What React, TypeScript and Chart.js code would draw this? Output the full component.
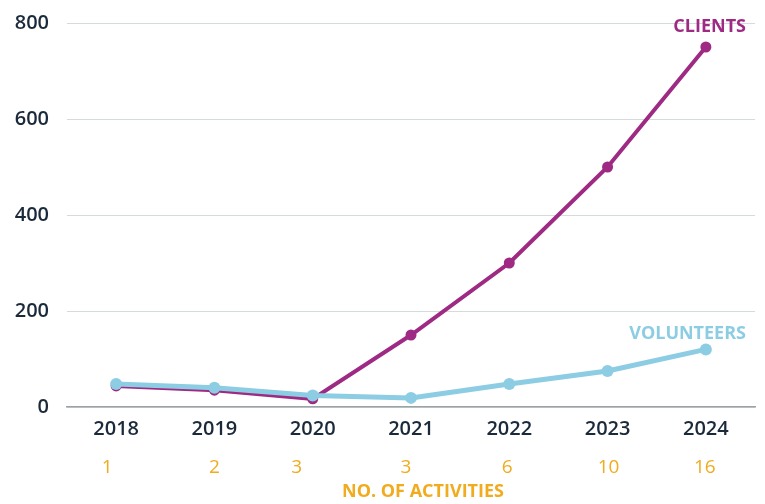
import React, { useEffect, useRef } from "react";
import { Chart, registerables } from "chart.js";

Chart.register(...registerables);

const years = ["2018", "2019", "2020", "2021", "2022", "2023", "2024"];
const clients = [44, 35, 17, 150, 300, 500, 750];
const volunteers = [48, 40, 24, 19, 48, 75, 120];
const activities = ["1", "2", "3", "3", "6", "10", "16"];
const yTicks = [0, 200, 400, 600, 800];

const PURPLE = "#9e2a83";
const BLUE = "#8ccde3";
const ORANGE = "#f0ab1e";
const NAVY = "#1b2a3a";
const FONT = "'Open Sans', 'DejaVu Sans', sans-serif";

const activityDx = [-9, 0, -16, -5, -2, 1, -1];

const overlay = {
  id: "overlay",
  afterDraw(chart: any) {
    const ctx = chart.ctx;
    const x = chart.scales.x;
    const y = chart.scales.y;
    ctx.save();
    ctx.textBaseline = "middle";
    ctx.textAlign = "center";
    ctx.fillStyle = ORANGE;
    ctx.font = `400 19px ${FONT}`;
    activities.forEach((a, i) => {
      ctx.fillText(a, x.getPixelForValue(i) + activityDx[i], 468);
    });
    ctx.font = `700 18px ${FONT}`;
    ctx.fillText("NO. OF ACTIVITIES", (chart.chartArea.left + chart.chartArea.right) / 2 + 12, 492);

    const last = years.length - 1;
    ctx.textAlign = "right";
    ctx.font = `700 18px ${FONT}`;
    ctx.fillStyle = PURPLE;
    ctx.fillText("CLIENTS", 746, y.getPixelForValue(clients[last]) - 20);
    ctx.fillStyle = BLUE;
    ctx.fillText("VOLUNTEERS", 746, y.getPixelForValue(volunteers[last]) - 16);
    ctx.restore();
  },
};

export default function App() {
  const ref = useRef<HTMLCanvasElement>(null);
  useEffect(() => {
    if (!ref.current) return;
    const chart = new Chart(ref.current, {
      type: "line",
      data: {
        labels: years,
        datasets: [
          {
            label: "CLIENTS",
            data: clients,
            borderColor: PURPLE,
            backgroundColor: PURPLE,
            borderWidth: 4,
            pointRadius: 5.5,
            pointBorderWidth: 0,
            pointBackgroundColor: PURPLE,
            tension: 0,
            order: 1,
          },
          {
            label: "VOLUNTEERS",
            data: volunteers,
            borderColor: BLUE,
            backgroundColor: BLUE,
            borderWidth: 5,
            pointRadius: 6,
            pointBorderWidth: 0,
            pointBackgroundColor: BLUE,
            tension: 0,
            order: 0,
          },
        ],
      },
      options: {
        animation: false,
        responsive: false,
        layout: { padding: { top: 23, right: 10, left: 0, bottom: 0 } },
        plugins: { legend: { display: false }, tooltip: { enabled: false } },
        scales: {
          x: {
            offset: true,
            grid: { display: false, drawTicks: false },
            border: { display: true, color: "#9aa3a8", width: 1.5 },
            ticks: {
              color: NAVY,
              font: { family: FONT, size: 20, weight: "600" as any },
              padding: 10,
            },
            afterFit(s: any) {
              s.height = 97;
            },
          },
          y: {
            min: 0,
            max: 800,
            afterBuildTicks(s: any) {
              s.ticks = yTicks.map((v) => ({ value: v }));
            },
            grid: {
              color: "#d5dadd",
              lineWidth: 1,
              drawTicks: true,
              tickLength: 18,
              tickColor: "rgba(0,0,0,0)",
            },
            border: { display: false },
            ticks: {
              color: NAVY,
              font: { family: FONT, size: 20, weight: "600" as any },
              padding: 0,
            },
            afterFit(s: any) {
              s.width = 67;
            },
          },
        },
      },
      plugins: [overlay],
    });
    return () => chart.destroy();
  }, []);
  return (
    <div style={{ position: "fixed", left: 0, top: 0, width: 765, height: 504 }}>
      <canvas ref={ref} width={765} height={504} />
    </div>
  );
}
